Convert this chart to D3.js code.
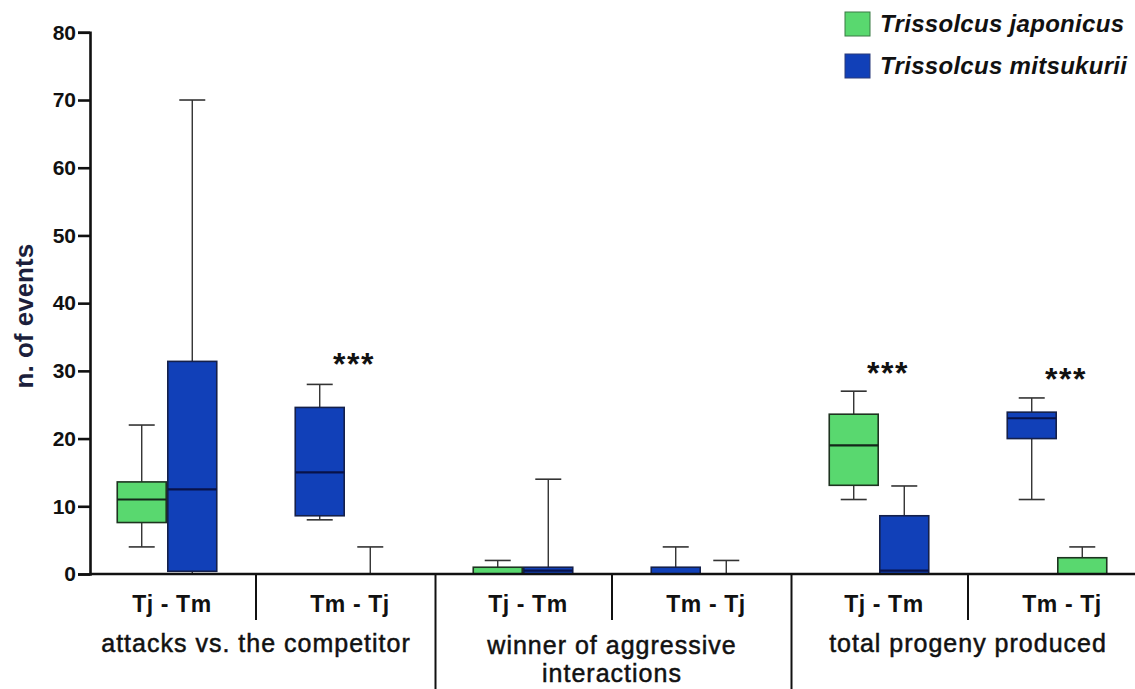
<!DOCTYPE html>
<html>
<head>
<meta charset="utf-8">
<script src="https://cdn.jsdelivr.net/npm/d3@7"></script>
<style>
  body { margin: 0; background: #fff; }
  svg { display: block; font-family: "Liberation Sans", Arial, sans-serif; }
</style>
</head>
<body>
<div id="chart"></div>
<script>
// pairings shown along the x axis, and the three panels they belong to
var pairings = ["Tj - Tm", "Tm - Tj", "Tj - Tm", "Tm - Tj", "Tj - Tm", "Tm - Tj"];
var groupLabels = [["attacks vs. the competitor"], ["winner of aggressive", "interactions"], ["total progeny produced"]];
var species = ["Trissolcus japonicus", "Trissolcus mitsukurii"];

// five-number summaries [min, q1, median, q3, max] for each pairing
var japonicus = [
    [4, 7.6, 11, 13.6, 22],
    [0, 0, 0, 0, 4],
    [0, 0, 0, 1, 2],
    [0, 0, 0, 0, 2],
    [11, 13.1, 19, 23.6, 27],
    [0, 0, 0, 2.4, 4]
];
var mitsukurii = [
    [0, 0.4, 12.5, 31.4, 70],
    [8, 8.6, 15, 24.6, 28],
    [0, 0, 0.5, 1, 14],
    [0, 0, 0, 1, 4],
    [0, 0, 0.5, 8.6, 13],
    [11, 20, 23, 23.9, 26]
];
// which species is drawn on the left in each pairing (0 = japonicus, 1 = mitsukurii)
var firstSpecies = [0, 1, 0, 1, 0, 1];

var yTicks = [0, 10, 20, 30, 40, 50, 60, 70, 80];

// significance marks: pairing index and height (in events)
var sigPairing = [1, 4, 5];
var sigLevel = [32, 30.7, 29.8];

var fills = ["#59d86f", "#1140b8"];
var outlines = ["#1e3320", "#15204a"];
var medians = ["#14261a", "#08124a"];

var width = 1135, height = 689;
var svg = d3.select("#chart")
    .append("svg")
    .attr("width", width)
    .attr("height", height);

var x = d3.scaleBand()
    .domain(d3.range(pairings.length))
    .range([78, 1146]);

var inner = d3.scaleBand()
    .domain([0, 1])
    .range([-x.bandwidth() * 0.284, x.bandwidth() * 0.284]);

var y = d3.scaleLinear()
    .domain([0, 80])
    .range([574, 32.3]);

var boxW = inner.bandwidth() - 1.6;
var capW = 26;

// build one record per box
var boxes = [];
pairings.forEach(function(p, i) {
    [0, 1].forEach(function(slot) {
        var sp = slot === 0 ? firstSpecies[i] : 1 - firstSpecies[i];
        var s = sp === 0 ? japonicus[i] : mitsukurii[i];
        boxes.push({cat: i, slot: slot, sp: sp, min: s[0], q1: s[1], med: s[2], q3: s[3], max: s[4]});
    });
});

function cx(d) { return x(d.cat) + x.bandwidth() / 2 + inner(d.slot) + inner.bandwidth() / 2; }

var g = svg.append("g");

// whiskers
g.selectAll(".whisk-hi")
    .data(boxes)
    .enter()
    .append("line")
    .attr("x1", cx).attr("x2", cx)
    .attr("y1", function(d) { return y(d.max); })
    .attr("y2", function(d) { return y(d.q3); })
    .style("stroke", "#333")
    .style("stroke-width", 1.4);
g.selectAll(".whisk-lo")
    .data(boxes)
    .enter()
    .append("line")
    .attr("x1", cx).attr("x2", cx)
    .attr("y1", function(d) { return y(d.q1); })
    .attr("y2", function(d) { return y(d.min); })
    .style("stroke", "#333")
    .style("stroke-width", 1.4);
g.selectAll(".cap-hi")
    .data(boxes.filter(function(d) { return d.max > d.q3; }))
    .enter()
    .append("line")
    .attr("x1", function(d) { return cx(d) - capW / 2; })
    .attr("x2", function(d) { return cx(d) + capW / 2; })
    .attr("y1", function(d) { return y(d.max); })
    .attr("y2", function(d) { return y(d.max); })
    .style("stroke", "#333")
    .style("stroke-width", 1.6);
g.selectAll(".cap-lo")
    .data(boxes.filter(function(d) { return d.min < d.q1; }))
    .enter()
    .append("line")
    .attr("x1", function(d) { return cx(d) - capW / 2; })
    .attr("x2", function(d) { return cx(d) + capW / 2; })
    .attr("y1", function(d) { return y(d.min); })
    .attr("y2", function(d) { return y(d.min); })
    .style("stroke", "#333")
    .style("stroke-width", 1.6);

// boxes
g.selectAll(".box")
    .data(boxes)
    .enter()
    .append("rect")
    .attr("x", function(d) { return cx(d) - boxW / 2; })
    .attr("y", function(d) { return y(d.q3); })
    .attr("width", boxW)
    .attr("height", function(d) { return y(d.q1) - y(d.q3); })
    .style("fill", function(d) { return fills[d.sp]; })
    .style("stroke", function(d) { return outlines[d.sp]; })
    .style("stroke-width", 1.6);

// medians
g.selectAll(".median")
    .data(boxes.filter(function(d) { return d.q3 > d.q1; }))
    .enter()
    .append("line")
    .attr("x1", function(d) { return cx(d) - boxW / 2; })
    .attr("x2", function(d) { return cx(d) + boxW / 2; })
    .attr("y1", function(d) { return y(d.med); })
    .attr("y2", function(d) { return y(d.med); })
    .style("stroke", function(d) { return medians[d.sp]; })
    .style("stroke-width", 2.2);

// Y axis
var yAxis = svg.append("g")
    .attr("transform", "translate(90,0)")
    .call(d3.axisLeft(y).tickValues(yTicks).tickSize(12).tickPadding(2));
yAxis.select(".domain").style("stroke", "#111").style("stroke-width", 2.6);
yAxis.selectAll(".tick line").style("stroke", "#111").style("stroke-width", 2.6);
yAxis.selectAll(".tick text")
    .style("font-family", "Liberation Sans, Arial, sans-serif")
    .style("font-size", "21px")
    .style("font-weight", "bold")
    .style("fill", "#111");

svg.append("text")
    .attr("transform", "translate(33," + ((y(0) + y(80)) / 2 + 13) + ") rotate(-90)")
    .attr("text-anchor", "middle")
    .style("font-size", "26px")
    .style("font-weight", "bold")
    .style("fill", "#1c1f3c")
    .text("n. of events");

// baseline
svg.append("line")
    .attr("x1", 90).attr("x2", width)
    .attr("y1", y(0)).attr("y2", y(0))
    .style("stroke", "#111")
    .style("stroke-width", 2.4);

// separators between pairings inside a panel, and between panels
var pairSep = [1, 3, 5];
svg.selectAll(".pairsep")
    .data(pairSep)
    .enter()
    .append("line")
    .attr("x1", function(d) { return x(d); })
    .attr("x2", function(d) { return x(d); })
    .attr("y1", y(0))
    .attr("y2", y(0) + 46)
    .style("stroke", "#111")
    .style("stroke-width", 2);
var groupSep = [2, 4];
svg.selectAll(".groupsep")
    .data(groupSep)
    .enter()
    .append("line")
    .attr("x1", function(d) { return x(d) + 1.5; })
    .attr("x2", function(d) { return x(d) + 1.5; })
    .attr("y1", y(0))
    .attr("y2", height)
    .style("stroke", "#111")
    .style("stroke-width", 2);

// pairing labels
svg.selectAll(".pair")
    .data(pairings)
    .enter()
    .append("text")
    .attr("x", function(d, i) { return x(i) + x.bandwidth() / 2 + 5; })
    .attr("y", 612)
    .attr("text-anchor", "middle")
    .style("font-size", "23px")
    .style("font-weight", "bold")
    .style("letter-spacing", "0.6px")
    .style("fill", "#111")
    .text(function(d) { return d; });

// panel labels
groupLabels.forEach(function(lines, gi) {
    var mid = (x(gi * 2) + x(gi * 2 + 1) + x.bandwidth()) / 2;
    var t = svg.append("text")
        .attr("text-anchor", "middle")
        .attr("y", lines.length > 1 ? 654 : 652)
        .style("font-size", "25px")
        .style("letter-spacing", "1px")
        .style("fill", "#111")
        .style("stroke", "#111")
        .style("stroke-width", 0.5);
    lines.forEach(function(l, li) {
        t.append("tspan")
            .attr("x", mid)
            .attr("dy", li === 0 ? 0 : 28)
            .text(l);
    });
});

// significance asterisks
svg.selectAll(".sig")
    .data(sigPairing)
    .enter()
    .append("text")
    .attr("x", function(d) { return x(d) + x.bandwidth() / 2 + 9; })
    .attr("y", function(d, i) { return y(sigLevel[i]) + 18; })
    .attr("text-anchor", "middle")
    .style("font-size", "32px")
    .style("font-weight", "bold")
    .style("letter-spacing", "1.5px")
    .style("fill", "#111")
    .text("***");

// legend
var legend = svg.append("g")
    .attr("transform", "translate(845,12)");
var item = legend.selectAll(".item")
    .data(species)
    .enter()
    .append("g")
    .attr("transform", function(d, i) { return "translate(0," + (i * 42) + ")"; });
item.append("rect")
    .attr("width", 25)
    .attr("height", 24)
    .style("fill", function(d, i) { return fills[i]; })
    .style("stroke", function(d, i) { return i === 0 ? "#3a7a44" : "#2a3a7a"; })
    .style("stroke-width", 1);
item.append("text")
    .attr("x", 35)
    .attr("y", 20)
    .style("font-size", "24px")
    .style("font-weight", "bold")
    .style("font-style", "italic")
    .style("letter-spacing", "0.3px")
    .style("fill", "#111")
    .text(function(d) { return d; });
</script>
</body>
</html>
